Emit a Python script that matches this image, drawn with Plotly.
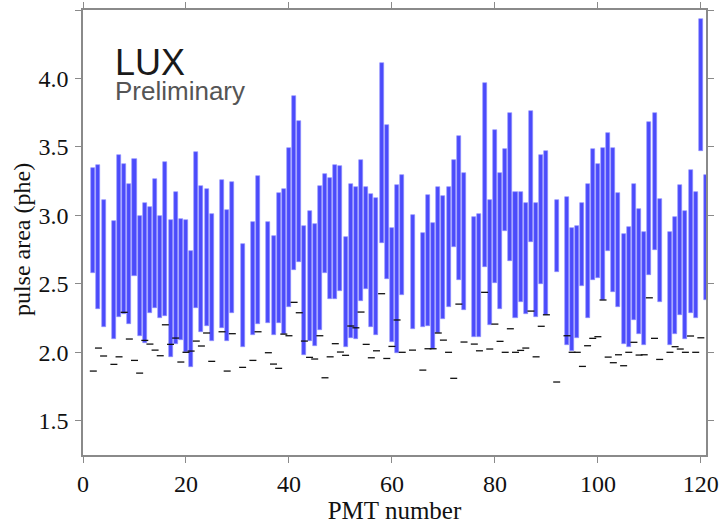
import plotly.graph_objects as go

pmt = [2, 3, 4, 6, 7, 8, 9, 10, 11, 12, 13, 14, 15, 16, 17, 18, 19, 20, 21, 22, 23, 24, 25,
       27, 28, 29, 31, 33, 34, 36, 37, 38, 39, 40, 41, 42, 43, 44, 45, 46, 47, 48, 49, 50,
       51, 52, 53, 54, 55, 56, 57, 58, 59, 60, 61, 62, 64, 66, 67, 68, 69, 70, 71, 72, 73,
       74, 76, 77, 78, 79, 80, 81, 82, 83, 84, 85, 86, 87, 88, 89, 90, 92, 94, 95, 96, 97,
       98, 99, 100, 101, 102, 103, 104, 105, 106, 107, 108, 109, 110, 111, 112, 114, 115,
       116, 117, 118, 119, 120, 121]

low = [2.580, 2.315, 2.185, 2.095, 2.258, 2.283, 2.206, 2.560, 2.121, 2.067, 2.289, 2.325,
       2.252, 2.267, 1.966, 2.058, 2.093, 2.002, 1.892, 2.321, 2.150, 2.192, 2.082,
       2.175, 2.085, 2.284, 2.041, 2.124, 2.209, 2.211, 2.126, 2.216, 2.131, 2.328, 2.601,
       2.661, 1.978, 2.085, 2.046, 2.163, 2.581, 2.389, 2.389, 2.445,
       2.036, 2.106, 2.095, 2.377, 2.465, 2.187, 2.126, 2.796, 2.533, 2.075, 1.992, 2.421,
       2.172, 2.182, 2.192, 2.024, 2.138, 2.241, 2.331, 2.771, 2.528,
       2.311, 2.111, 2.111, 2.625, 2.199, 2.506, 2.314, 2.888, 2.669, 2.248, 2.367, 2.277,
       2.803, 2.260, 2.501, 2.272, 2.588, 2.051, 2.009, 2.106, 2.484,
       2.252, 2.525, 2.542, 2.382, 2.740, 2.438, 2.333, 2.060, 2.041, 2.233, 2.136, 2.055,
       2.562, 2.750, 2.367, 2.055, 2.133,
       2.272, 2.097, 2.289, 2.248, 3.468, 2.382]

high = [3.345, 3.367, 3.112, 2.959, 3.440, 3.375, 3.232, 3.412, 2.998, 3.091, 3.063, 3.264,
        2.998, 3.393, 2.966, 3.173, 2.972, 2.969, 2.740, 3.461, 3.212, 3.190, 3.008,
        3.260, 3.037, 3.241, 2.791, 2.949, 3.285, 2.949, 2.849, 3.163, 3.192, 3.492, 3.870,
        3.691, 2.920, 3.034, 2.935, 3.214, 3.302, 3.273, 3.368, 3.360,
        2.839, 3.229, 3.207, 3.404, 3.210, 3.156, 3.129, 4.115, 3.662, 2.908, 3.224, 3.292,
        3.005, 2.869, 3.149, 2.944, 3.210, 3.141, 3.207, 3.407, 3.582,
        3.307, 2.986, 3.008, 3.969, 3.112, 3.621, 3.312, 3.485, 3.745, 3.173, 3.168, 3.090,
        3.760, 3.090, 3.439, 3.470, 3.114, 3.136, 2.905, 2.924, 3.093,
        3.227, 3.482, 3.377, 3.492, 3.599, 3.490, 3.166, 2.862, 2.913, 3.231, 3.044, 2.878,
        3.682, 3.748, 3.122, 2.881, 2.990,
        3.224, 3.032, 3.331, 3.173, 4.432, 3.295]

dash = [1.863, 2.031, 1.973, 1.912, 1.967, 2.292, 2.097, 1.941, 1.848, 2.087, 2.060, 2.016,
        1.975, 2.201, 2.058, 2.104, 1.929, 2.000, 2.009, 2.082, 2.046, 2.141, 1.934,
        2.150, 1.863, 2.136, 1.890, 1.941, 2.150, 1.997, 1.914, 1.883, 2.133, 2.121, 2.365,
        2.289, 2.082, 1.963, 1.951, 2.121, 1.814, 1.967, 2.063, 2.002,
        1.978, 2.192, 2.179, 2.294, 2.058, 1.960, 2.011, 2.428, 1.955, 2.043, 2.236, 2.000,
        2.016, 1.870, 2.026, 2.026, 2.141, 2.089, 2.000, 1.810, 2.352,
        2.075, 2.060, 2.011, 2.438, 2.024, 2.206, 2.080, 2.000, 2.172, 2.000, 2.014, 2.031,
        2.301, 1.967, 2.190, 2.274, 1.783, 2.121, 2.000, 2.000, 1.897,
        2.048, 2.102, 2.114, 2.382, 1.965, 1.924, 1.982, 1.902, 2.000, 2.073, 1.980, 1.982,
        2.398, 2.102, 1.948, 2.000, 2.041,
        2.024, 2.000, 2.119, 2.000, 2.106, None]

x_ticks = [0, 20, 40, 60, 80, 100, 120]
y_ticks = [1.5, 2.0, 2.5, 3.0, 3.5, 4.0, 4.5]

span = [h - l for h, l in zip(high, low)]
dash_x = [p for p, d in zip(pmt, dash) if d is not None]
dash_y = [d for d in dash if d is not None]

fig = go.Figure()
fig.add_trace(go.Bar(x=pmt, y=span, base=low, width=0.78,
                     marker=dict(color="#4b4bfb", line=dict(width=0.6, color="#8f8fff")),
                     showlegend=False))
fig.add_trace(go.Scatter(x=dash_x, y=dash_y, mode="markers",
                         marker=dict(symbol="line-ew", size=5,
                                     line=dict(width=1.3, color="#111111")),
                         showlegend=False))

serif = "Liberation Serif"
axis_common = dict(showline=True, linecolor="#8a8a8a", linewidth=1.5, mirror="allticks",
                   ticks="outside", ticklen=6, tickwidth=1.3, tickcolor="#8a8a8a",
                   showgrid=False, zeroline=False, automargin=False,
                   tickfont=dict(family=serif, size=24, color="#111111"))

fig.update_xaxes(range=[0, 121], tickvals=x_ticks,
                 title=dict(text="PMT number", font=dict(family=serif, size=25, color="#111111"),
                            standoff=2),
                 **axis_common)
fig.update_yaxes(range=[1.25, 4.5], tickvals=y_ticks, ticktext=[f"{v:.1f}" for v in y_ticks],
                 ticklabelstandoff=2,
                 **axis_common)

fig.add_annotation(x=-0.098, y=0.485, xref="paper", yref="paper", text="pulse area (phe)",
                   showarrow=False, textangle=-90, xanchor="center", yanchor="middle",
                   font=dict(family=serif, size=24, color="#111111"))
fig.add_annotation(x=5.8, y=4.12, xref="x", yref="y", text="LUX", showarrow=False,
                   xanchor="left", yanchor="middle",
                   font=dict(family="Liberation Sans", size=36, color="#1a1a1a"))
fig.add_annotation(x=5.8, y=3.905, xref="x", yref="y", text="Preliminary", showarrow=False,
                   xanchor="left", yanchor="middle",
                   font=dict(family="Liberation Sans", size=26, color="#555555"))

fig.update_layout(width=719, height=525, margin=dict(l=83, r=13, t=10, b=70),
                  plot_bgcolor="white", paper_bgcolor="white", bargap=0)

fig.write_html("out.html")
